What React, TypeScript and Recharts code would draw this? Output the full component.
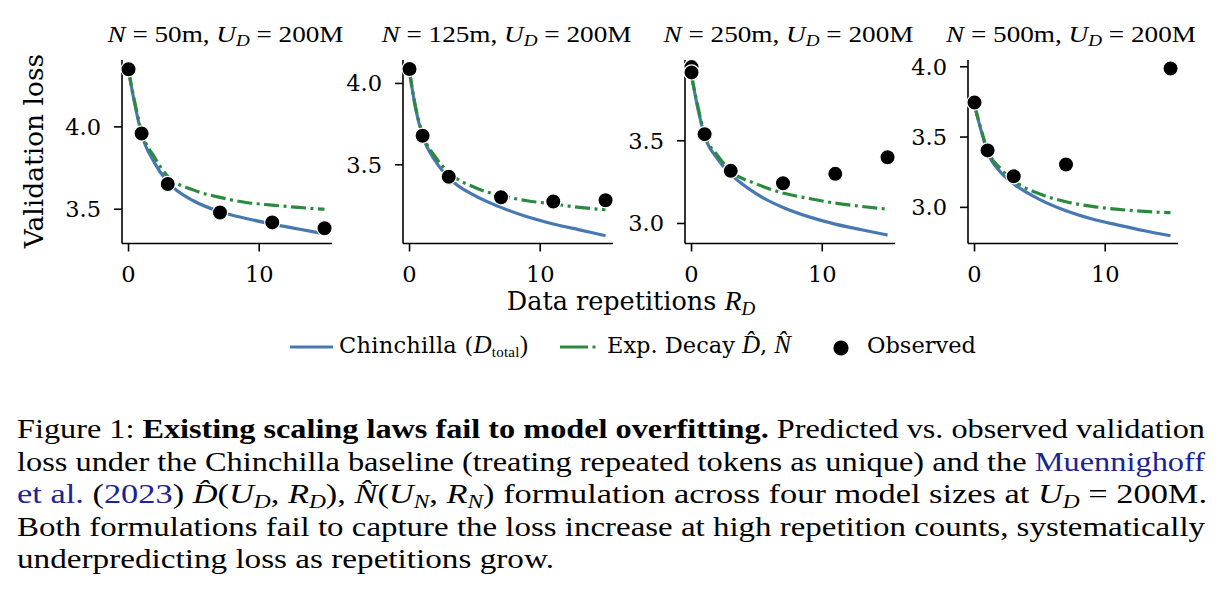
import React from 'react';
import { ComposedChart, Line, Scatter, XAxis, YAxis } from 'recharts';

// repetition counts where the fitted curves are sampled
const R_GRID = [0, 0.5, 1, 2, 3, 5, 7, 9, 11, 13, 15];

// Chinchilla fit, treating repeated tokens as unique
const chin50 = [4.34, 4.13, 3.956, 3.78, 3.665, 3.55, 3.485, 3.444, 3.41, 3.38, 3.35];
const chin125 = [4.07, 3.832, 3.678, 3.52, 3.42, 3.31, 3.238, 3.18, 3.136, 3.1, 3.064];
const chin250 = [3.893, 3.69, 3.53, 3.389, 3.298, 3.177, 3.097, 3.04, 2.996, 2.962, 2.93];
const chin500 = [3.726, 3.548, 3.393, 3.25, 3.167, 3.055, 2.976, 2.917, 2.874, 2.834, 2.798];

// exponential-decay effective data / params fit
const exp50 = [4.34, 4.14, 3.97, 3.814, 3.7, 3.616, 3.572, 3.541, 3.525, 3.511, 3.5];
const exp125 = [4.07, 3.84, 3.69, 3.545, 3.453, 3.36, 3.31, 3.279, 3.259, 3.238, 3.224];
const exp250 = [3.893, 3.7, 3.54, 3.41, 3.318, 3.238, 3.184, 3.151, 3.123, 3.103, 3.087];
const exp500 = [3.726, 3.555, 3.405, 3.274, 3.19, 3.095, 3.04, 3.007, 2.986, 2.971, 2.962];

// observed validation loss
const obsR50 = [0, 1, 3, 7, 11, 15];
const obs50 = [4.35, 3.96, 3.653, 3.48, 3.42, 3.385];
const obsR125 = [0, 1, 3, 7, 11, 15];
const obs125 = [4.089, 3.678, 3.426, 3.3, 3.274, 3.282];
const obsR250 = [0, 0, 1, 3, 7, 11, 15];
const obs250 = [3.945, 3.913, 3.54, 3.318, 3.243, 3.3, 3.4];
const obsR500 = [0, 1, 3, 7, 15];
const obs500 = [3.746, 3.405, 3.221, 3.305, 3.988];

const MODEL_SIZES = ['50m', '125m', '250m', '500m'];
const X_TICKS = [0, 10];
const Y_TICKS = [
  [3.5, 4.0],
  [3.5, 4.0],
  [3.0, 3.5],
  [3.0, 3.5, 4.0],
];
const Y_DOMAINS: [number, number][] = [
  [3.292, 4.406],
  [3.016, 4.144],
  [2.879, 3.988],
  [2.743, 4.048],
];

const toPoints = (xs: number[], ys: number[]) => xs.map((x, i) => ({ x, y: ys[i] }));

const panels = [
  { chin: chin50, exp: exp50, obsR: obsR50, obs: obs50 },
  { chin: chin125, exp: exp125, obsR: obsR125, obs: obs125 },
  { chin: chin250, exp: exp250, obsR: obsR250, obs: obs250 },
  { chin: chin500, exp: exp500, obsR: obsR500, obs: obs500 },
];

// layout
const PLOT_LEFT = [122, 403, 685, 967.5];
const PLOT_TOP = 59.5;
const PLOT_W = 210;
const PLOT_H = 183.5;
const Y_AXIS_W = 70;
const M_TOP = 12;
const M_RIGHT = 14;
const X_AXIS_H = 45;

const BLUE = '#4878b2';
const GREEN = '#2b8a3e';
const LINK = '#1b2396';
const SERIF = 'DejaVu Serif';
const TIMES = 'Liberation Serif';

const tickStyle = { fill: '#000', fontSize: 22.5, fontFamily: SERIF };
const axisStroke = { stroke: '#000', strokeWidth: 1.6 };

const ObservedDot = (props: any) => (
  <circle cx={props.cx} cy={props.cy} r={7.6} fill="#000" stroke="#fff" strokeWidth={1.2} />
);

const Panel = ({ idx }: { idx: number }) => {
  const p = panels[idx];
  return (
    <div
      style={{
        position: 'absolute',
        left: PLOT_LEFT[idx] - Y_AXIS_W,
        top: PLOT_TOP - M_TOP,
      }}
    >
      <ComposedChart
        width={Y_AXIS_W + PLOT_W + M_RIGHT}
        height={M_TOP + PLOT_H + X_AXIS_H}
        margin={{ top: M_TOP, right: M_RIGHT, left: 0, bottom: 0 }}
      >
        <XAxis
          type="number"
          dataKey="x"
          domain={[-0.5, 15.57]}
          ticks={X_TICKS}
          interval={0}
          height={X_AXIS_H}
          tickSize={8}
          tickMargin={15}
          tick={tickStyle}
          tickLine={axisStroke}
          axisLine={axisStroke}
        />
        <YAxis
          type="number"
          dataKey="y"
          domain={Y_DOMAINS[idx]}
          ticks={Y_TICKS[idx]}
          interval={0}
          width={Y_AXIS_W}
          tickSize={8}
          tickMargin={13}
          tick={tickStyle}
          tickLine={axisStroke}
          axisLine={axisStroke}
          tickFormatter={(v: number) => v.toFixed(1)}
        />
        <Line
          data={toPoints(R_GRID, p.chin)}
          dataKey="y"
          type="monotone"
          stroke={BLUE}
          strokeWidth={3.2}
          dot={false}
          isAnimationActive={false}
        />
        <Line
          data={toPoints(R_GRID, p.exp)}
          dataKey="y"
          type="monotone"
          stroke={GREEN}
          strokeWidth={3.2}
          strokeDasharray="15 4.5 3 4.5"
          dot={false}
          isAnimationActive={false}
        />
        <Scatter
          data={toPoints(p.obsR, p.obs)}
          dataKey="y"
          shape={ObservedDot}
          isAnimationActive={false}
        />
      </ComposedChart>
    </div>
  );
};

// subscript: shifted with baseline-shift so the following text needs no reset
const Sub = ({ children, size, shift, italic }: any) => (
  <tspan
    fontSize={size}
    baselineShift={-shift}
    fontStyle={italic ? 'italic' : 'normal'}
    fontFamily={TIMES}
  >
    {children}
  </tspan>
);

const Overlay = () => (
  <svg
    width={1225}
    height={601}
    style={{ position: 'absolute', left: 0, top: 0, pointerEvents: 'none' }}
  >
    {/* panel titles */}
    {MODEL_SIZES.map((m, i) => (
      <text
        key={m}
        x={PLOT_LEFT[i] + PLOT_W / 2 - 1.5}
        y={41.7}
        textAnchor="middle"
        fontFamily={TIMES}
        fontSize={23.5}
        textLength={i === 0 ? 236 : 250}
        lengthAdjust="spacingAndGlyphs"
      >
        <tspan fontStyle="italic">N</tspan>
        {` = ${m}, `}
        <tspan fontStyle="italic">U</tspan>
        <Sub size={16.5} shift={4} italic>
          D
        </Sub>
        {' = 200M'}
      </text>
    ))}

    {/* axis labels */}
    <text
      transform="translate(43,151) rotate(-90)"
      textAnchor="middle"
      fontFamily={SERIF}
      fontSize={26.5}
    >
      Validation loss
    </text>
    <text x={631} y={310} textAnchor="middle" fontFamily={SERIF} fontSize={25.5}>
      {'Data repetitions '}
      <tspan fontFamily={TIMES} fontStyle="italic" fontSize={28}>
        R
      </tspan>
      <Sub size={19} shift={5} italic>
        D
      </Sub>
    </text>

    {/* legend */}
    <line x1={290} x2={333} y1={347} y2={347} stroke={BLUE} strokeWidth={3.2} />
    <text x={339} y={353.3} fontFamily={SERIF} fontSize={22.5} textLength={189} lengthAdjust="spacing">
      {'Chinchilla ('}
      <tspan fontFamily={TIMES} fontStyle="italic" fontSize={25}>
        D
      </tspan>
      <Sub size={15} shift={4}>
        total
      </Sub>
      <tspan fontFamily={TIMES} fontSize={25}>
        )
      </tspan>
    </text>
    <line
      x1={560}
      x2={597}
      y1={347}
      y2={347}
      stroke={GREEN}
      strokeWidth={3.2}
      strokeDasharray="28 4.5 3 10"
    />
    <text x={607} y={353.3} fontFamily={SERIF} fontSize={22.5} textLength={184} lengthAdjust="spacing">
      {'Exp. Decay '}
      <tspan fontFamily={TIMES} fontStyle="italic" fontSize={25}>
        {'D\u0302'}
      </tspan>
      {', '}
      <tspan fontFamily={TIMES} fontStyle="italic" fontSize={25}>
        {'N\u0302'}
      </tspan>
    </text>
    <circle cx={841} cy={348} r={7.6} fill="#000" />
    <text x={867} y={353.3} fontFamily={SERIF} fontSize={22.5}>
      Observed
    </text>

    {/* caption */}
    <g fontFamily={TIMES} fontSize={28} fill="#000">
      <text x={17} y={438.3} textLength={1188} lengthAdjust="spacingAndGlyphs">
        {'Figure 1: '}
        <tspan fontWeight="bold">Existing scaling laws fail to model overfitting.</tspan>
        {' Predicted vs. observed validation'}
      </text>
      <text x={17} y={470.8} textLength={1188} lengthAdjust="spacingAndGlyphs">
        {'loss under the Chinchilla baseline (treating repeated tokens as unique) and the '}
        <tspan fill={LINK}>Muennighoff</tspan>
      </text>
      <text x={17} y={503.3} textLength={1190} lengthAdjust="spacingAndGlyphs">
        <tspan fill={LINK}>et al.</tspan>
        {' ('}
        <tspan fill={LINK}>2023</tspan>
        {') '}
        <tspan fontStyle="italic">{'D\u0302'}</tspan>
        {'('}
        <tspan fontStyle="italic">U</tspan>
        <Sub size={19} shift={5} italic>
          D
        </Sub>
        {', '}
        <tspan fontStyle="italic">R</tspan>
        <Sub size={19} shift={5} italic>
          D
        </Sub>
        {'), '}
        <tspan fontStyle="italic">{'N\u0302'}</tspan>
        {'('}
        <tspan fontStyle="italic">U</tspan>
        <Sub size={19} shift={5} italic>
          N
        </Sub>
        {', '}
        <tspan fontStyle="italic">R</tspan>
        <Sub size={19} shift={5} italic>
          N
        </Sub>
        {') formulation across four model sizes at '}
        <tspan fontStyle="italic">U</tspan>
        <Sub size={19} shift={5} italic>
          D
        </Sub>
        {' = 200M.'}
      </text>
      <text x={17} y={535.8} textLength={1188} lengthAdjust="spacingAndGlyphs">
        Both formulations fail to capture the loss increase at high repetition counts, systematically
      </text>
      <text x={17} y={568.3} textLength={537} lengthAdjust="spacingAndGlyphs">
        underpredicting loss as repetitions grow.
      </text>
    </g>
  </svg>
);

export default function App() {
  return (
    <div
      style={{
        position: 'absolute',
        left: 0,
        top: 0,
        width: 1225,
        height: 601,
        background: '#fff',
        overflow: 'hidden',
      }}
    >
      {panels.map((_, i) => (
        <Panel key={i} idx={i} />
      ))}
      <Overlay />
    </div>
  );
}
